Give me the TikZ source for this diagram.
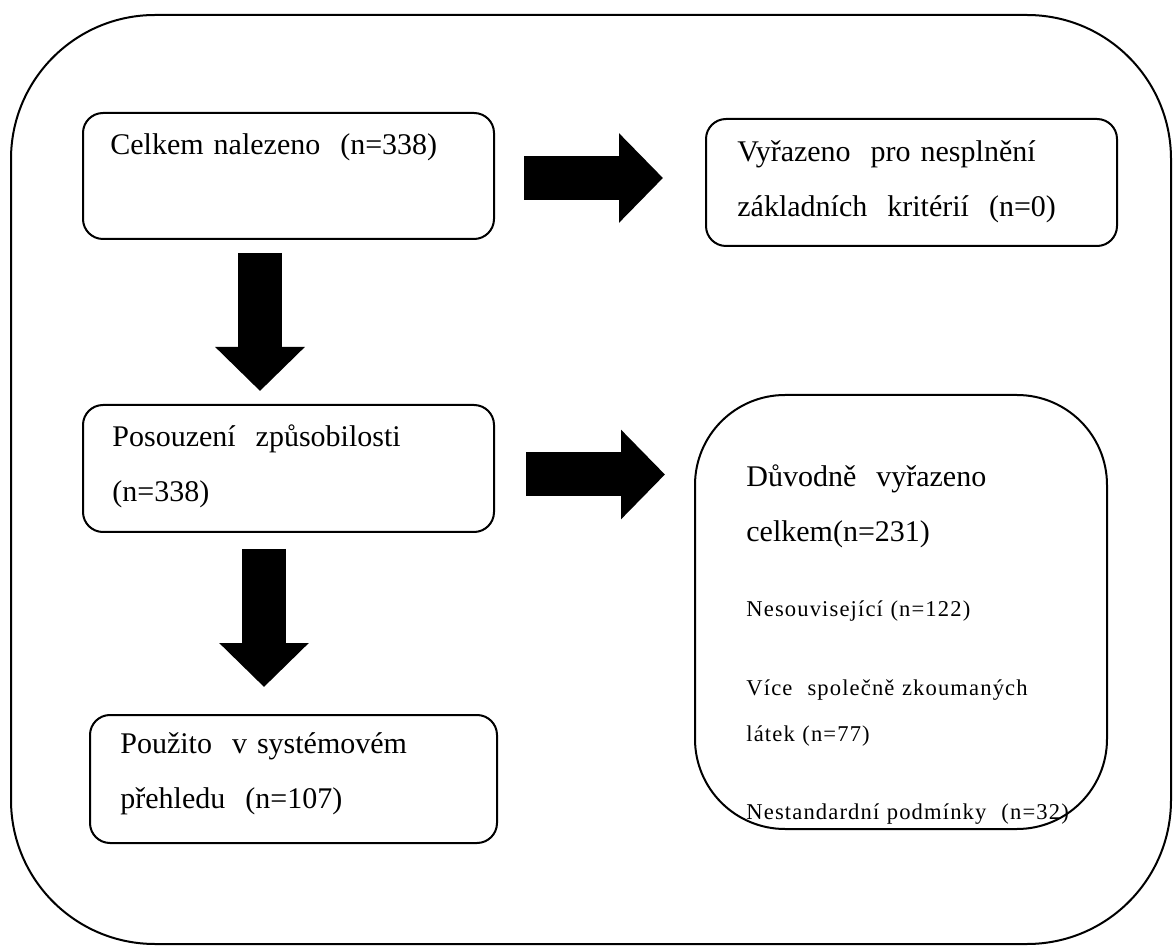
\documentclass[tikz,border=0pt]{standalone}
\usepackage{fontspec}
\setmainfont{Liberation Serif}
\newfontfamily\spacedserif[LetterSpace=5]{Liberation Serif}
\usepackage{tikz}
\usetikzlibrary{
  arrows.meta,
  positioning,
  calc
}
\definecolor{linecolor}{RGB}{0, 0, 0}
\definecolor{arrowcolor}{RGB}{0, 0, 0}
\tikzset{
blocktext/.style={
  align=left,
  anchor=base west,
  inner sep=0pt,
  font=\fontsize{15pt}{27.5pt}\selectfont
},
smalltext/.style={
  blocktext,
  font=\spacedserif\fontsize{11.3pt}{23pt}\selectfont
},
box/.style={
  draw=linecolor,
  line width=1pt,
  rounded corners=10pt,
  anchor=north west,
  inner sep=0pt,
  outer sep=0pt
},
bigbox/.style={
  box,
  rounded corners=45pt
},
frame/.style={
  draw=linecolor,
  line width=1pt,
  rounded corners=72pt
},
arrow/.style={
  -{Triangle[length=22pt,width=43.5pt]},
  line width=22pt,
  draw=arrowcolor
}
}
\begin{document}
\begin{tikzpicture}[x=0.5pt,y=-0.5pt]
  \useasboundingbox (0,0) rectangle (1173,946);
  \draw[frame] (11,15) rectangle (1171,944);

  % boxes
  \node[box, minimum width=205.5pt, minimum height=63pt] (celkem) at (83,113) {};
  \node[box, minimum width=205.5pt, minimum height=63.5pt] (vyrazeno) at (706,119) {};
  \node[box, minimum width=205.5pt, minimum height=63.5pt] (posouzeni) at (83,405) {};
  \node[bigbox, minimum width=206pt, minimum height=217pt] (duvodne) at (695,395) {};
  \node[box, minimum width=203.5pt, minimum height=64pt] (pouzito) at (90,715) {};

  % texts
  \node[blocktext, text width=190pt] (celkemtext) at (110,155) {Celkem nalezeno\ \ (n=338)};
  \node[blocktext, text width=190pt] (vyrazenotext) at (737,162) {Vyřazeno\ \ pro nesplnění\\základních\ \ kritérií\ \ (n=0)};
  \node[blocktext, text width=190pt] (posouzenitext) at (112,447) {Posouzení\ \ způsobilosti\\(n=338)};
  \node[blocktext, text width=180pt] (duvodnetext) at (746,487) {Důvodně\ \ vyřazeno\\celkem(n=231)};
  \node[smalltext, text width=180pt] (nesouv) at (746,617) {Nesouvisející (n=122)};
  \node[smalltext, text width=180pt] (vice) at (746,695) {Více\ \ společně zkoumaných\\látek (n=77)};
  \node[smalltext, text width=190pt] (nestand) at (746,819) {Nestandardní podmínky\ \ (n=32)};
  \node[blocktext, text width=190pt] (pouzitotext) at (120,753) {Použito\ \ v systémovém\\přehledu\ \ (n=107)};

  % arrows
  \draw[arrow] ($(celkem.east)+(30,2)$) -- ($(vyrazeno.west |- celkem.east)+(-43,2)$);
  \draw[arrow] ($(posouzeni.east)+(32,6)$) -- ($(duvodne.west |- posouzeni.east)+(-30,6)$);
  \draw[arrow] ($(celkem.south)+(-28.5,14)$) -- ($(posouzeni.north)+(-28.5,-14)$);
  \draw[arrow] ($(posouzeni.south)+(-24.5,17)$) -- ($(pouzito.north)+(-29.5,-28)$);
\end{tikzpicture}
\end{document}
